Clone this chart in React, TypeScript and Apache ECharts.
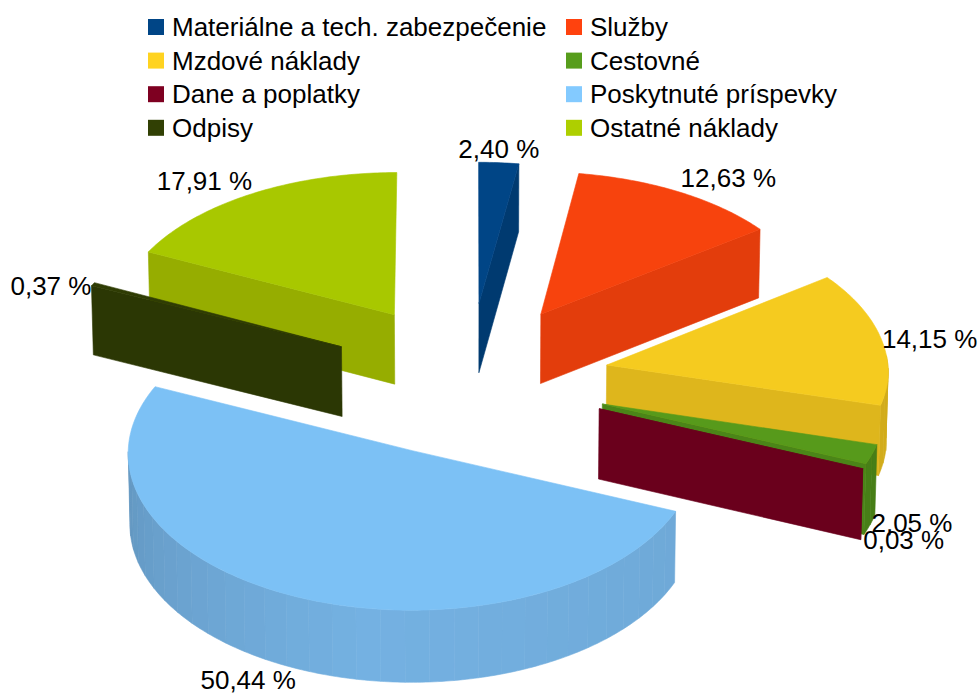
import React, { useEffect, useRef } from "react";
import * as echarts from "echarts";

const categories = [
  "Materiálne a tech. zabezpečenie",
  "Služby",
  "Mzdové náklady",
  "Cestovné",
  "Dane a poplatky",
  "Poskytnuté príspevky",
  "Odpisy",
  "Ostatné náklady",
];
const values = [2.4, 12.63, 14.15, 2.05, 0.03, 50.44, 0.37, 17.91];
const legendColors = ["#004586", "#ff420e", "#ffd320", "#579d1c", "#7e0021", "#83caff", "#314004", "#aecf00"];
const topColors = ["#004586", "#f7430d", "#f5cb1f", "#579a1b", "#6a001c", "#7cc1f5", "#2f3c04", "#a8c800"];
const wallColors = ["#003a70", "#e33d0c", "#deb61c", "#4b8518", "#6a001c", "#74b1e2", "#2b3704", "#96ad00"];
// painter's order: back slices first
const drawOrder = [0, 7, 1, 6, 2, 5, 3, 4];

const CX = 468.5;
const CY = 379;
const RX = 282;
const KY = 155;
const HEIGHT = 70;
const EXPLODE = 0.5;
const FONT = '26px "Liberation Sans"';

// offset of each value label from the middle of its slice's rim
const labelNudges: number[][] = [
  [0, -14], [49, -14], [49, 1], [40, 69], [41, 71], [-49, 83], [-42, 2], [-48, -13],
];

const total = values.reduce((a, b) => a + b, 0);
const toRad = (pct: number) => (pct / total) * Math.PI * 2;

function project(X: number, Y: number, z: number) {
  const sx = 1 / (1 + (Y > 0 ? 0.035 : 0.015) * Y);
  const sy = 1 / (1 + (Y > 0 ? 0.048 : 0.015) * Y);
  const sh = 1 / (1 + 0.02 * Y);
  return [CX + X * RX * sx * (1 - 0.005 * z), CY - KY * Y * sy + z * HEIGHT * sh];
}

function shade(hex: string, f: number) {
  const n = parseInt(hex.slice(1), 16);
  const c = [(n >> 16) & 255, (n >> 8) & 255, n & 255].map((v) => Math.round(Math.min(255, v * f)));
  return `rgb(${c[0]},${c[1]},${c[2]})`;
}

function sliceChildren(i: number) {
  const start = toRad(values.slice(0, i).reduce((a, b) => a + b, 0));
  const end = start + toRad(values[i]);
  const mid = (start + end) / 2;
  const ox = EXPLODE * Math.sin(mid);
  const oy = EXPLODE * Math.cos(mid);
  const rim = (a: number, z: number) => project(ox + Math.sin(a), oy + Math.cos(a), z);
  const apex = (z: number) => project(ox, oy, z);
  const children: any[] = [];
  const poly = (points: number[][], fill: string) =>
    children.push({
      type: "polygon",
      shape: { points },
      style: { fill, stroke: fill, lineWidth: 0.6 },
    });

  // outer cylinder bands facing the viewer
  const step = Math.PI / 36;
  const steps = Math.max(1, Math.ceil((end - start) / step));
  for (let k = 0; k < steps; k++) {
    const a = start + ((end - start) * k) / steps;
    const b = start + ((end - start) * (k + 1)) / steps;
    const m = (a + b) / 2;
    if (Math.cos(m) >= 0.02) continue;
    const deg = (m * 180) / Math.PI;
    const f = deg < 190 ? 0.94 + (0.06 * (deg - 90)) / 100 : 1 - ((deg - 190) / 80) * 0.15;
    const upper: number[][] = [];
    const lower: number[][] = [];
    for (let q = 0; q <= 6; q++) {
      const t = a + ((b - a) * q) / 6;
      upper.push(rim(t, 0));
      lower.unshift(rim(t, 1));
    }
    poly([...upper, ...lower], shade(wallColors[i], f));
  }
  // radial walls facing the viewer
  if (Math.sin(start) < 0) poly([apex(0), rim(start, 0), rim(start, 1), apex(1)], wallColors[i]);
  if (Math.sin(end) > 0) poly([apex(0), rim(end, 0), rim(end, 1), apex(1)], wallColors[i]);
  // top face
  const top: number[][] = [apex(0)];
  const topSteps = Math.max(2, Math.ceil((end - start) / (step / 6)));
  for (let k = 0; k <= topSteps; k++) top.push(rim(start + ((end - start) * k) / topSteps, 0));
  poly(top, topColors[i]);
  // value label
  const anchor = rim(mid, 0);
  children.push({
    type: "text",
    x: anchor[0] + labelNudges[i][0],
    y: anchor[1] + labelNudges[i][1],
    z2: 10,
    style: {
      text: values[i].toFixed(2).replace(".", ",") + " %",
      font: FONT,
      fill: "#000000",
      align: "center",
      verticalAlign: "middle",
    },
  });
  return children;
}

const legendBase = {
  orient: "vertical" as const,
  top: 9,
  icon: "rect",
  itemWidth: 16,
  itemHeight: 16,
  itemGap: 7.6,
  selectedMode: false,
  itemStyle: { borderWidth: 0 },
  textStyle: { fontFamily: "Liberation Sans", fontSize: 26, color: "#000000", padding: [0, 0, 0, 3] },
};

export default function App() {
  const ref = useRef<HTMLDivElement>(null);
  useEffect(() => {
    const chart = echarts.init(ref.current!, undefined, { renderer: "svg" });
    chart.setOption({
      animation: false,
      backgroundColor: "#ffffff",
      tooltip: { show: false },
      legend: [
        { ...legendBase, left: 143, data: [categories[0], categories[2], categories[4], categories[6]] },
        { ...legendBase, left: 561, data: [categories[1], categories[3], categories[5], categories[7]] },
      ],
      series: drawOrder.map((i, order) => ({
        type: "custom",
        name: categories[i],
        coordinateSystem: "none",
        silent: true,
        z: 2 + order,
        itemStyle: { color: legendColors[i] },
        data: [[values[i]]],
        renderItem: () => ({ type: "group", children: sliceChildren(i) }),
      })),
    });
    return () => chart.dispose();
  }, []);
  return <div ref={ref} style={{ position: "absolute", left: 0, top: 0, width: 978, height: 695 }} />;
}
